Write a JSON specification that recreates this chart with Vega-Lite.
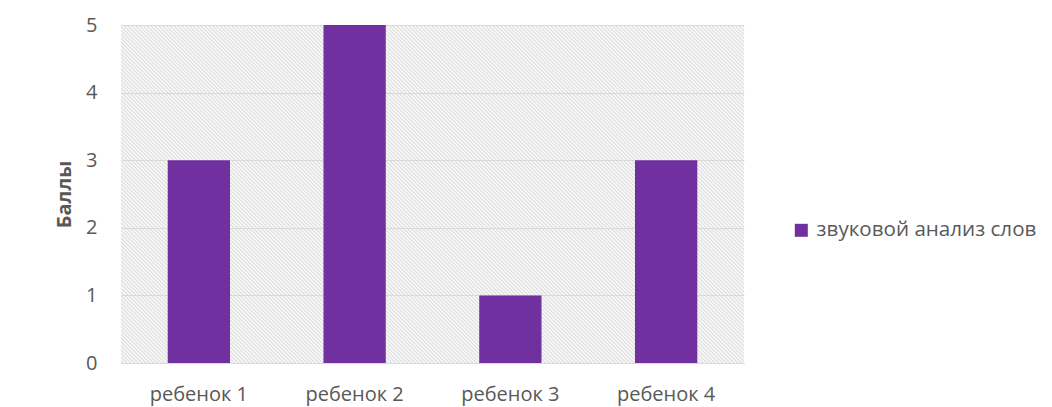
{
  "$schema": "https://vega.github.io/schema/vega-lite/v6.json",
  "autosize": "none",
  "width": 623,
  "height": 338,
  "padding": {"left": 121, "top": 25, "right": 308, "bottom": 44},
  "background": "#ffffff",
  "data": {"values": [
    {"child": "ребенок 1", "score": 3, "series": "звуковой анализ слов"},
    {"child": "ребенок 2", "score": 5, "series": "звуковой анализ слов"},
    {"child": "ребенок 3", "score": 1, "series": "звуковой анализ слов"},
    {"child": "ребенок 4", "score": 3, "series": "звуковой анализ слов"}
  ]},
  "mark": {"type": "bar"},
  "encoding": {
    "x": {"field": "child", "type": "nominal", "sort": null,
      "scale": {"paddingInner": 0.6, "paddingOuter": 0.3},
      "axis": {"title": null, "labelAngle": 0, "ticks": false, "domain": true, "domainColor": "#d9d9d9", "grid": false,
        "labelFont": "Open Sans", "labelFontSize": 20, "labelColor": "#595959", "labelPadding": 21, "labelLimit": 0}},
    "y": {"field": "score", "type": "quantitative",
      "scale": {"domain": [0, 5], "nice": false},
      "axis": {"title": "Баллы", "values": [0, 1, 2, 3, 4, 5], "format": "d", "ticks": false, "domain": false, "grid": true, "gridColor": "#d9d9d9",
        "labelFont": "Open Sans", "labelFontSize": 20, "labelColor": "#595959", "labelPadding": 24,
        "titleFont": "Open Sans", "titleFontSize": 20, "titleFontWeight": "bold", "titleColor": "#595959", "titlePadding": 11}},
    "color": {"field": "series", "type": "nominal",
      "scale": {"range": ["#7030A0"]},
      "legend": {"title": null, "orient": "none", "legendX": 670, "legendY": 195, "padding": 0,
        "symbolType": "square", "symbolSize": 169, "symbolStrokeWidth": 0, "labelOffset": 5, "labelLimit": 0,
        "labelFont": "Open Sans", "labelFontSize": 20.6, "labelColor": "#595959"}}
  },
  "config": {
    "view": {"stroke": null, "fill": {"gradient": "linear", "x1": 0, "y1": 1, "x2": 1.19175, "y2": 0.35342, "stops": [
{"offset":0,"color":"#fff"},{"offset":0.002,"color":"#dcdcdc"},{"offset":0.004,"color":"#fff"},{"offset":0.006,"color":"#dcdcdc"},{"offset":0.008,"color":"#fff"},
{"offset":0.01,"color":"#dcdcdc"},{"offset":0.012,"color":"#fff"},{"offset":0.014,"color":"#dcdcdc"},{"offset":0.016,"color":"#fff"},{"offset":0.018,"color":"#dcdcdc"},
{"offset":0.02,"color":"#fff"},{"offset":0.022,"color":"#dcdcdc"},{"offset":0.024,"color":"#fff"},{"offset":0.026,"color":"#dcdcdc"},{"offset":0.028,"color":"#fff"},
{"offset":0.03,"color":"#dcdcdc"},{"offset":0.032,"color":"#fff"},{"offset":0.034,"color":"#dcdcdc"},{"offset":0.036,"color":"#fff"},{"offset":0.038,"color":"#dcdcdc"},
{"offset":0.04,"color":"#fff"},{"offset":0.042,"color":"#dcdcdc"},{"offset":0.044,"color":"#fff"},{"offset":0.046,"color":"#dcdcdc"},{"offset":0.048,"color":"#fff"},
{"offset":0.05,"color":"#dcdcdc"},{"offset":0.052,"color":"#fff"},{"offset":0.054,"color":"#dcdcdc"},{"offset":0.056,"color":"#fff"},{"offset":0.058,"color":"#dcdcdc"},
{"offset":0.06,"color":"#fff"},{"offset":0.062,"color":"#dcdcdc"},{"offset":0.064,"color":"#fff"},{"offset":0.066,"color":"#dcdcdc"},{"offset":0.068,"color":"#fff"},
{"offset":0.07,"color":"#dcdcdc"},{"offset":0.072,"color":"#fff"},{"offset":0.074,"color":"#dcdcdc"},{"offset":0.076,"color":"#fff"},{"offset":0.078,"color":"#dcdcdc"},
{"offset":0.08,"color":"#fff"},{"offset":0.082,"color":"#dcdcdc"},{"offset":0.084,"color":"#fff"},{"offset":0.086,"color":"#dcdcdc"},{"offset":0.088,"color":"#fff"},
{"offset":0.09,"color":"#dcdcdc"},{"offset":0.092,"color":"#fff"},{"offset":0.094,"color":"#dcdcdc"},{"offset":0.096,"color":"#fff"},{"offset":0.098,"color":"#dcdcdc"},
{"offset":0.1,"color":"#fff"},{"offset":0.102,"color":"#dcdcdc"},{"offset":0.104,"color":"#fff"},{"offset":0.106,"color":"#dcdcdc"},{"offset":0.108,"color":"#fff"},
{"offset":0.11,"color":"#dcdcdc"},{"offset":0.112,"color":"#fff"},{"offset":0.114,"color":"#dcdcdc"},{"offset":0.116,"color":"#fff"},{"offset":0.118,"color":"#dcdcdc"},
{"offset":0.12,"color":"#fff"},{"offset":0.122,"color":"#dcdcdc"},{"offset":0.124,"color":"#fff"},{"offset":0.126,"color":"#dcdcdc"},{"offset":0.128,"color":"#fff"},
{"offset":0.13,"color":"#dcdcdc"},{"offset":0.132,"color":"#fff"},{"offset":0.134,"color":"#dcdcdc"},{"offset":0.136,"color":"#fff"},{"offset":0.138,"color":"#dcdcdc"},
{"offset":0.14,"color":"#fff"},{"offset":0.142,"color":"#dcdcdc"},{"offset":0.144,"color":"#fff"},{"offset":0.146,"color":"#dcdcdc"},{"offset":0.148,"color":"#fff"},
{"offset":0.15,"color":"#dcdcdc"},{"offset":0.152,"color":"#fff"},{"offset":0.154,"color":"#dcdcdc"},{"offset":0.156,"color":"#fff"},{"offset":0.158,"color":"#dcdcdc"},
{"offset":0.16,"color":"#fff"},{"offset":0.162,"color":"#dcdcdc"},{"offset":0.164,"color":"#fff"},{"offset":0.166,"color":"#dcdcdc"},{"offset":0.168,"color":"#fff"},
{"offset":0.17,"color":"#dcdcdc"},{"offset":0.172,"color":"#fff"},{"offset":0.174,"color":"#dcdcdc"},{"offset":0.176,"color":"#fff"},{"offset":0.178,"color":"#dcdcdc"},
{"offset":0.18,"color":"#fff"},{"offset":0.182,"color":"#dcdcdc"},{"offset":0.184,"color":"#fff"},{"offset":0.186,"color":"#dcdcdc"},{"offset":0.188,"color":"#fff"},
{"offset":0.19,"color":"#dcdcdc"},{"offset":0.192,"color":"#fff"},{"offset":0.194,"color":"#dcdcdc"},{"offset":0.196,"color":"#fff"},{"offset":0.198,"color":"#dcdcdc"},
{"offset":0.2,"color":"#fff"},{"offset":0.202,"color":"#dcdcdc"},{"offset":0.204,"color":"#fff"},{"offset":0.206,"color":"#dcdcdc"},{"offset":0.208,"color":"#fff"},
{"offset":0.21,"color":"#dcdcdc"},{"offset":0.212,"color":"#fff"},{"offset":0.214,"color":"#dcdcdc"},{"offset":0.216,"color":"#fff"},{"offset":0.218,"color":"#dcdcdc"},
{"offset":0.22,"color":"#fff"},{"offset":0.222,"color":"#dcdcdc"},{"offset":0.224,"color":"#fff"},{"offset":0.226,"color":"#dcdcdc"},{"offset":0.228,"color":"#fff"},
{"offset":0.23,"color":"#dcdcdc"},{"offset":0.232,"color":"#fff"},{"offset":0.234,"color":"#dcdcdc"},{"offset":0.236,"color":"#fff"},{"offset":0.238,"color":"#dcdcdc"},
{"offset":0.24,"color":"#fff"},{"offset":0.242,"color":"#dcdcdc"},{"offset":0.244,"color":"#fff"},{"offset":0.246,"color":"#dcdcdc"},{"offset":0.248,"color":"#fff"},
{"offset":0.25,"color":"#dcdcdc"},{"offset":0.252,"color":"#fff"},{"offset":0.254,"color":"#dcdcdc"},{"offset":0.256,"color":"#fff"},{"offset":0.258,"color":"#dcdcdc"},
{"offset":0.26,"color":"#fff"},{"offset":0.262,"color":"#dcdcdc"},{"offset":0.264,"color":"#fff"},{"offset":0.266,"color":"#dcdcdc"},{"offset":0.268,"color":"#fff"},
{"offset":0.27,"color":"#dcdcdc"},{"offset":0.272,"color":"#fff"},{"offset":0.274,"color":"#dcdcdc"},{"offset":0.276,"color":"#fff"},{"offset":0.278,"color":"#dcdcdc"},
{"offset":0.28,"color":"#fff"},{"offset":0.282,"color":"#dcdcdc"},{"offset":0.284,"color":"#fff"},{"offset":0.286,"color":"#dcdcdc"},{"offset":0.288,"color":"#fff"},
{"offset":0.29,"color":"#dcdcdc"},{"offset":0.292,"color":"#fff"},{"offset":0.294,"color":"#dcdcdc"},{"offset":0.296,"color":"#fff"},{"offset":0.298,"color":"#dcdcdc"},
{"offset":0.3,"color":"#fff"},{"offset":0.302,"color":"#dcdcdc"},{"offset":0.304,"color":"#fff"},{"offset":0.306,"color":"#dcdcdc"},{"offset":0.308,"color":"#fff"},
{"offset":0.31,"color":"#dcdcdc"},{"offset":0.312,"color":"#fff"},{"offset":0.314,"color":"#dcdcdc"},{"offset":0.316,"color":"#fff"},{"offset":0.318,"color":"#dcdcdc"},
{"offset":0.32,"color":"#fff"},{"offset":0.322,"color":"#dcdcdc"},{"offset":0.324,"color":"#fff"},{"offset":0.326,"color":"#dcdcdc"},{"offset":0.328,"color":"#fff"},
{"offset":0.33,"color":"#dcdcdc"},{"offset":0.332,"color":"#fff"},{"offset":0.334,"color":"#dcdcdc"},{"offset":0.336,"color":"#fff"},{"offset":0.338,"color":"#dcdcdc"},
{"offset":0.34,"color":"#fff"},{"offset":0.342,"color":"#dcdcdc"},{"offset":0.344,"color":"#fff"},{"offset":0.346,"color":"#dcdcdc"},{"offset":0.348,"color":"#fff"},
{"offset":0.35,"color":"#dcdcdc"},{"offset":0.352,"color":"#fff"},{"offset":0.354,"color":"#dcdcdc"},{"offset":0.356,"color":"#fff"},{"offset":0.358,"color":"#dcdcdc"},
{"offset":0.36,"color":"#fff"},{"offset":0.362,"color":"#dcdcdc"},{"offset":0.364,"color":"#fff"},{"offset":0.366,"color":"#dcdcdc"},{"offset":0.368,"color":"#fff"},
{"offset":0.37,"color":"#dcdcdc"},{"offset":0.372,"color":"#fff"},{"offset":0.374,"color":"#dcdcdc"},{"offset":0.376,"color":"#fff"},{"offset":0.378,"color":"#dcdcdc"},
{"offset":0.38,"color":"#fff"},{"offset":0.382,"color":"#dcdcdc"},{"offset":0.384,"color":"#fff"},{"offset":0.386,"color":"#dcdcdc"},{"offset":0.388,"color":"#fff"},
{"offset":0.39,"color":"#dcdcdc"},{"offset":0.392,"color":"#fff"},{"offset":0.394,"color":"#dcdcdc"},{"offset":0.396,"color":"#fff"},{"offset":0.398,"color":"#dcdcdc"},
{"offset":0.4,"color":"#fff"},{"offset":0.402,"color":"#dcdcdc"},{"offset":0.404,"color":"#fff"},{"offset":0.406,"color":"#dcdcdc"},{"offset":0.408,"color":"#fff"},
{"offset":0.41,"color":"#dcdcdc"},{"offset":0.412,"color":"#fff"},{"offset":0.414,"color":"#dcdcdc"},{"offset":0.416,"color":"#fff"},{"offset":0.418,"color":"#dcdcdc"},
{"offset":0.42,"color":"#fff"},{"offset":0.422,"color":"#dcdcdc"},{"offset":0.424,"color":"#fff"},{"offset":0.426,"color":"#dcdcdc"},{"offset":0.428,"color":"#fff"},
{"offset":0.43,"color":"#dcdcdc"},{"offset":0.432,"color":"#fff"},{"offset":0.434,"color":"#dcdcdc"},{"offset":0.436,"color":"#fff"},{"offset":0.438,"color":"#dcdcdc"},
{"offset":0.44,"color":"#fff"},{"offset":0.442,"color":"#dcdcdc"},{"offset":0.444,"color":"#fff"},{"offset":0.446,"color":"#dcdcdc"},{"offset":0.448,"color":"#fff"},
{"offset":0.45,"color":"#dcdcdc"},{"offset":0.452,"color":"#fff"},{"offset":0.454,"color":"#dcdcdc"},{"offset":0.456,"color":"#fff"},{"offset":0.458,"color":"#dcdcdc"},
{"offset":0.46,"color":"#fff"},{"offset":0.462,"color":"#dcdcdc"},{"offset":0.464,"color":"#fff"},{"offset":0.466,"color":"#dcdcdc"},{"offset":0.468,"color":"#fff"},
{"offset":0.47,"color":"#dcdcdc"},{"offset":0.472,"color":"#fff"},{"offset":0.474,"color":"#dcdcdc"},{"offset":0.476,"color":"#fff"},{"offset":0.478,"color":"#dcdcdc"},
{"offset":0.48,"color":"#fff"},{"offset":0.482,"color":"#dcdcdc"},{"offset":0.484,"color":"#fff"},{"offset":0.486,"color":"#dcdcdc"},{"offset":0.488,"color":"#fff"},
{"offset":0.49,"color":"#dcdcdc"},{"offset":0.492,"color":"#fff"},{"offset":0.494,"color":"#dcdcdc"},{"offset":0.496,"color":"#fff"},{"offset":0.498,"color":"#dcdcdc"},
{"offset":0.5,"color":"#fff"},{"offset":0.502,"color":"#dcdcdc"},{"offset":0.504,"color":"#fff"},{"offset":0.506,"color":"#dcdcdc"},{"offset":0.508,"color":"#fff"},
{"offset":0.51,"color":"#dcdcdc"},{"offset":0.512,"color":"#fff"},{"offset":0.514,"color":"#dcdcdc"},{"offset":0.516,"color":"#fff"},{"offset":0.518,"color":"#dcdcdc"},
{"offset":0.52,"color":"#fff"},{"offset":0.522,"color":"#dcdcdc"},{"offset":0.524,"color":"#fff"},{"offset":0.526,"color":"#dcdcdc"},{"offset":0.528,"color":"#fff"},
{"offset":0.53,"color":"#dcdcdc"},{"offset":0.532,"color":"#fff"},{"offset":0.534,"color":"#dcdcdc"},{"offset":0.536,"color":"#fff"},{"offset":0.538,"color":"#dcdcdc"},
{"offset":0.54,"color":"#fff"},{"offset":0.542,"color":"#dcdcdc"},{"offset":0.544,"color":"#fff"},{"offset":0.546,"color":"#dcdcdc"},{"offset":0.548,"color":"#fff"},
{"offset":0.55,"color":"#dcdcdc"},{"offset":0.552,"color":"#fff"},{"offset":0.554,"color":"#dcdcdc"},{"offset":0.556,"color":"#fff"},{"offset":0.558,"color":"#dcdcdc"},
{"offset":0.56,"color":"#fff"},{"offset":0.562,"color":"#dcdcdc"},{"offset":0.564,"color":"#fff"},{"offset":0.566,"color":"#dcdcdc"},{"offset":0.568,"color":"#fff"},
{"offset":0.57,"color":"#dcdcdc"},{"offset":0.572,"color":"#fff"},{"offset":0.574,"color":"#dcdcdc"},{"offset":0.576,"color":"#fff"},{"offset":0.578,"color":"#dcdcdc"},
{"offset":0.58,"color":"#fff"},{"offset":0.582,"color":"#dcdcdc"},{"offset":0.584,"color":"#fff"},{"offset":0.586,"color":"#dcdcdc"},{"offset":0.588,"color":"#fff"},
{"offset":0.59,"color":"#dcdcdc"},{"offset":0.592,"color":"#fff"},{"offset":0.594,"color":"#dcdcdc"},{"offset":0.596,"color":"#fff"},{"offset":0.598,"color":"#dcdcdc"},
{"offset":0.6,"color":"#fff"},{"offset":0.602,"color":"#dcdcdc"},{"offset":0.604,"color":"#fff"},{"offset":0.606,"color":"#dcdcdc"},{"offset":0.608,"color":"#fff"},
{"offset":0.61,"color":"#dcdcdc"},{"offset":0.612,"color":"#fff"},{"offset":0.614,"color":"#dcdcdc"},{"offset":0.616,"color":"#fff"},{"offset":0.618,"color":"#dcdcdc"},
{"offset":0.62,"color":"#fff"},{"offset":0.622,"color":"#dcdcdc"},{"offset":0.624,"color":"#fff"},{"offset":0.626,"color":"#dcdcdc"},{"offset":0.628,"color":"#fff"},
{"offset":0.63,"color":"#dcdcdc"},{"offset":0.632,"color":"#fff"},{"offset":0.634,"color":"#dcdcdc"},{"offset":0.636,"color":"#fff"},{"offset":0.638,"color":"#dcdcdc"},
{"offset":0.64,"color":"#fff"},{"offset":0.642,"color":"#dcdcdc"},{"offset":0.644,"color":"#fff"},{"offset":0.646,"color":"#dcdcdc"},{"offset":0.648,"color":"#fff"},
{"offset":0.65,"color":"#dcdcdc"},{"offset":0.652,"color":"#fff"},{"offset":0.654,"color":"#dcdcdc"},{"offset":0.656,"color":"#fff"},{"offset":0.658,"color":"#dcdcdc"},
{"offset":0.66,"color":"#fff"},{"offset":0.662,"color":"#dcdcdc"},{"offset":0.664,"color":"#fff"},{"offset":0.666,"color":"#dcdcdc"},{"offset":0.668,"color":"#fff"},
{"offset":0.67,"color":"#dcdcdc"},{"offset":0.672,"color":"#fff"},{"offset":0.674,"color":"#dcdcdc"},{"offset":0.676,"color":"#fff"},{"offset":0.678,"color":"#dcdcdc"},
{"offset":0.68,"color":"#fff"},{"offset":0.682,"color":"#dcdcdc"},{"offset":0.684,"color":"#fff"},{"offset":0.686,"color":"#dcdcdc"},{"offset":0.688,"color":"#fff"},
{"offset":0.69,"color":"#dcdcdc"},{"offset":0.692,"color":"#fff"},{"offset":0.694,"color":"#dcdcdc"},{"offset":0.696,"color":"#fff"},{"offset":0.698,"color":"#dcdcdc"},
{"offset":0.7,"color":"#fff"},{"offset":0.702,"color":"#dcdcdc"},{"offset":0.704,"color":"#fff"},{"offset":0.706,"color":"#dcdcdc"},{"offset":0.708,"color":"#fff"},
{"offset":0.71,"color":"#dcdcdc"},{"offset":0.712,"color":"#fff"},{"offset":0.714,"color":"#dcdcdc"},{"offset":0.716,"color":"#fff"},{"offset":0.718,"color":"#dcdcdc"},
{"offset":0.72,"color":"#fff"},{"offset":0.722,"color":"#dcdcdc"},{"offset":0.724,"color":"#fff"},{"offset":0.726,"color":"#dcdcdc"},{"offset":0.728,"color":"#fff"},
{"offset":0.73,"color":"#dcdcdc"},{"offset":0.732,"color":"#fff"},{"offset":0.734,"color":"#dcdcdc"},{"offset":0.736,"color":"#fff"},{"offset":0.738,"color":"#dcdcdc"},
{"offset":0.74,"color":"#fff"},{"offset":0.742,"color":"#dcdcdc"},{"offset":0.744,"color":"#fff"},{"offset":0.746,"color":"#dcdcdc"},{"offset":0.748,"color":"#fff"},
{"offset":0.75,"color":"#dcdcdc"},{"offset":0.752,"color":"#fff"},{"offset":0.754,"color":"#dcdcdc"},{"offset":0.756,"color":"#fff"},{"offset":0.758,"color":"#dcdcdc"},
{"offset":0.76,"color":"#fff"},{"offset":0.762,"color":"#dcdcdc"},{"offset":0.764,"color":"#fff"},{"offset":0.766,"color":"#dcdcdc"},{"offset":0.768,"color":"#fff"},
{"offset":0.77,"color":"#dcdcdc"},{"offset":0.772,"color":"#fff"},{"offset":0.774,"color":"#dcdcdc"},{"offset":0.776,"color":"#fff"},{"offset":0.778,"color":"#dcdcdc"},
{"offset":0.78,"color":"#fff"},{"offset":0.782,"color":"#dcdcdc"},{"offset":0.784,"color":"#fff"},{"offset":0.786,"color":"#dcdcdc"},{"offset":0.788,"color":"#fff"},
{"offset":0.79,"color":"#dcdcdc"},{"offset":0.792,"color":"#fff"},{"offset":0.794,"color":"#dcdcdc"},{"offset":0.796,"color":"#fff"},{"offset":0.798,"color":"#dcdcdc"},
{"offset":0.8,"color":"#fff"},{"offset":0.802,"color":"#dcdcdc"},{"offset":0.804,"color":"#fff"},{"offset":0.806,"color":"#dcdcdc"},{"offset":0.808,"color":"#fff"},
{"offset":0.81,"color":"#dcdcdc"},{"offset":0.812,"color":"#fff"},{"offset":0.814,"color":"#dcdcdc"},{"offset":0.816,"color":"#fff"},{"offset":0.818,"color":"#dcdcdc"},
{"offset":0.82,"color":"#fff"},{"offset":0.822,"color":"#dcdcdc"},{"offset":0.824,"color":"#fff"},{"offset":0.826,"color":"#dcdcdc"},{"offset":0.828,"color":"#fff"},
{"offset":0.83,"color":"#dcdcdc"},{"offset":0.832,"color":"#fff"},{"offset":0.834,"color":"#dcdcdc"},{"offset":0.836,"color":"#fff"},{"offset":0.838,"color":"#dcdcdc"},
{"offset":0.84,"color":"#fff"},{"offset":0.842,"color":"#dcdcdc"},{"offset":0.844,"color":"#fff"},{"offset":0.846,"color":"#dcdcdc"},{"offset":0.848,"color":"#fff"},
{"offset":0.85,"color":"#dcdcdc"},{"offset":0.852,"color":"#fff"},{"offset":0.854,"color":"#dcdcdc"},{"offset":0.856,"color":"#fff"},{"offset":0.858,"color":"#dcdcdc"},
{"offset":0.86,"color":"#fff"},{"offset":0.862,"color":"#dcdcdc"},{"offset":0.864,"color":"#fff"},{"offset":0.866,"color":"#dcdcdc"},{"offset":0.868,"color":"#fff"},
{"offset":0.87,"color":"#dcdcdc"},{"offset":0.872,"color":"#fff"},{"offset":0.874,"color":"#dcdcdc"},{"offset":0.876,"color":"#fff"},{"offset":0.878,"color":"#dcdcdc"},
{"offset":0.88,"color":"#fff"},{"offset":0.882,"color":"#dcdcdc"},{"offset":0.884,"color":"#fff"},{"offset":0.886,"color":"#dcdcdc"},{"offset":0.888,"color":"#fff"},
{"offset":0.89,"color":"#dcdcdc"},{"offset":0.892,"color":"#fff"},{"offset":0.894,"color":"#dcdcdc"},{"offset":0.896,"color":"#fff"},{"offset":0.898,"color":"#dcdcdc"},
{"offset":0.9,"color":"#fff"},{"offset":0.902,"color":"#dcdcdc"},{"offset":0.904,"color":"#fff"},{"offset":0.906,"color":"#dcdcdc"},{"offset":0.908,"color":"#fff"},
{"offset":0.91,"color":"#dcdcdc"},{"offset":0.912,"color":"#fff"},{"offset":0.914,"color":"#dcdcdc"},{"offset":0.916,"color":"#fff"},{"offset":0.918,"color":"#dcdcdc"},
{"offset":0.92,"color":"#fff"},{"offset":0.922,"color":"#dcdcdc"},{"offset":0.924,"color":"#fff"},{"offset":0.926,"color":"#dcdcdc"},{"offset":0.928,"color":"#fff"},
{"offset":0.93,"color":"#dcdcdc"},{"offset":0.932,"color":"#fff"},{"offset":0.934,"color":"#dcdcdc"},{"offset":0.936,"color":"#fff"},{"offset":0.938,"color":"#dcdcdc"},
{"offset":0.94,"color":"#fff"},{"offset":0.942,"color":"#dcdcdc"},{"offset":0.944,"color":"#fff"},{"offset":0.946,"color":"#dcdcdc"},{"offset":0.948,"color":"#fff"},
{"offset":0.95,"color":"#dcdcdc"},{"offset":0.952,"color":"#fff"},{"offset":0.954,"color":"#dcdcdc"},{"offset":0.956,"color":"#fff"},{"offset":0.958,"color":"#dcdcdc"},
{"offset":0.96,"color":"#fff"},{"offset":0.962,"color":"#dcdcdc"},{"offset":0.964,"color":"#fff"},{"offset":0.966,"color":"#dcdcdc"},{"offset":0.968,"color":"#fff"},
{"offset":0.97,"color":"#dcdcdc"},{"offset":0.972,"color":"#fff"},{"offset":0.974,"color":"#dcdcdc"},{"offset":0.976,"color":"#fff"},{"offset":0.978,"color":"#dcdcdc"},
{"offset":0.98,"color":"#fff"},{"offset":0.982,"color":"#dcdcdc"},{"offset":0.984,"color":"#fff"},{"offset":0.986,"color":"#dcdcdc"},{"offset":0.988,"color":"#fff"},
{"offset":0.99,"color":"#dcdcdc"},{"offset":0.992,"color":"#fff"},{"offset":0.994,"color":"#dcdcdc"},{"offset":0.996,"color":"#fff"},{"offset":0.998,"color":"#dcdcdc"},
{"offset":1,"color":"#fff"}
]}}
  }
}
